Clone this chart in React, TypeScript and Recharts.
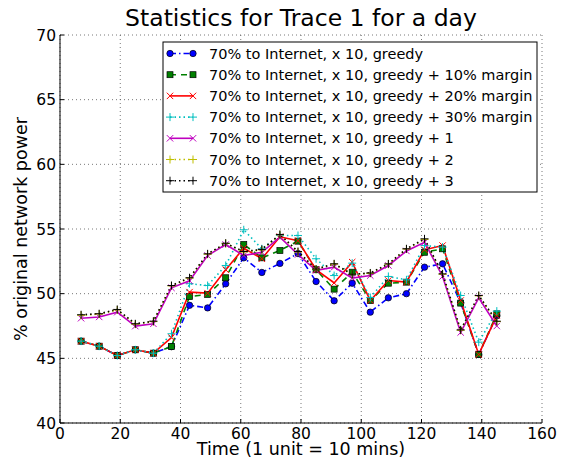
import { LineChart, Line, XAxis, YAxis, CartesianGrid } from 'recharts';

const X_VALUES = [7, 13, 19, 25, 31, 37, 43, 49, 55, 61, 67, 73, 79, 85, 91, 97, 103, 109, 115, 121, 127, 133, 139, 145];
const GREEDY = [46.33, 45.94, 45.22, 45.66, 45.4, 45.9, 49.1, 48.9, 50.76, 52.77, 51.64, 52.34, 53.1, 50.94, 49.45, 50.81, 48.57, 49.68, 50.0, 52.05, 52.31, 49.3, 45.3, 48.3];
const MARGIN_10 = [46.33, 45.94, 45.22, 45.66, 45.4, 45.92, 49.78, 49.94, 51.23, 53.8, 52.77, 53.34, 54.06, 51.85, 50.35, 51.66, 49.47, 50.81, 50.89, 53.2, 53.47, 49.27, 45.3, 48.44];
const MARGIN_20 = [46.33, 45.94, 45.22, 45.66, 45.4, 46.6, 50.12, 50.04, 51.85, 53.52, 52.7, 54.4, 54.1, 51.85, 50.83, 52.44, 49.47, 51.02, 50.89, 53.39, 53.72, 49.47, 45.3, 48.3];
const MARGIN_30 = [46.33, 45.94, 45.22, 45.66, 45.4, 46.9, 50.77, 50.63, 52.18, 54.94, 53.47, 54.5, 54.5, 52.7, 51.4, 52.36, 49.7, 51.33, 51.07, 53.72, 53.6, 49.86, 46.25, 48.65];
const PLUS_1 = [48.1, 48.2, 48.57, 47.49, 47.67, 50.45, 51.0, 52.95, 53.8, 52.95, 53.2, 54.37, 53.03, 51.8, 52.05, 51.2, 51.4, 52.18, 53.3, 53.98, 51.33, 47.0, 49.68, 47.5];
const PLUS_2 = [48.33, 48.42, 48.74, 47.64, 47.84, 50.6, 51.2, 53.05, 53.88, 53.22, 53.38, 54.55, 53.22, 51.88, 52.28, 51.48, 51.57, 52.28, 53.45, 54.2, 51.5, 47.17, 49.83, 47.84];
const PLUS_3 = [48.37, 48.45, 48.78, 47.67, 47.87, 50.63, 51.23, 53.08, 53.9, 53.26, 53.42, 54.58, 53.26, 51.9, 52.31, 51.5, 51.6, 52.3, 53.47, 54.24, 51.53, 47.2, 49.86, 47.87];

const X_TICKS = [0, 20, 40, 60, 80, 100, 120, 140, 160];
const Y_TICKS = [40, 45, 50, 55, 60, 65, 70];

const LABELS = [
  '70% to Internet, x 10, greedy',
  '70% to Internet, x 10, greedy + 10% margin',
  '70% to Internet, x 10, greedy + 20% margin',
  '70% to Internet, x 10, greedy + 30% margin',
  '70% to Internet, x 10, greedy + 1',
  '70% to Internet, x 10, greedy + 2',
  '70% to Internet, x 10, greedy + 3',
];

const data = X_VALUES.map((x, i) => ({
  x,
  greedy: GREEDY[i],
  m10: MARGIN_10[i],
  m20: MARGIN_20[i],
  m30: MARGIN_30[i],
  p1: PLUS_1[i],
  p2: PLUS_2[i],
  p3: PLUS_3[i],
}));

const FONT = '"DejaVu Sans", sans-serif';
const W = 570;
const H = 459;
const PLOT = { left: 60, right: 542, top: 35, bottom: 423 };

type Shape = 'circle' | 'square' | 'x' | 'plus';

interface SeriesDef {
  key: string;
  color: string;
  dash?: string;
  shape: Shape;
}

const SERIES: SeriesDef[] = [
  { key: 'greedy', color: '#0000ff', dash: '6 3 1.5 3', shape: 'circle' },
  { key: 'm10', color: '#008000', dash: '6 5', shape: 'square' },
  { key: 'm20', color: '#ff0000', shape: 'x' },
  { key: 'm30', color: '#00bfbf', dash: '1.5 3', shape: 'plus' },
  { key: 'p1', color: '#bf00bf', shape: 'x' },
  { key: 'p2', color: '#bfbf00', dash: '1.5 3', shape: 'plus' },
  { key: 'p3', color: '#000000', dash: '1.5 3', shape: 'plus' },
];

function marker(shape: Shape, color: string, cx: number, cy: number, key?: any) {
  switch (shape) {
    case 'circle':
      return <circle key={key} cx={cx} cy={cy} r={3.2} fill={color} stroke="#000" strokeWidth={0.7} />;
    case 'square':
      return <rect key={key} x={cx - 3} y={cy - 3} width={6} height={6} fill={color} stroke="#000" strokeWidth={0.7} />;
    case 'x':
      return (
        <g key={key}>
          <line x1={cx - 3.2} y1={cy - 3.2} x2={cx + 3.2} y2={cy + 3.2} stroke={color} strokeWidth={1} />
          <line x1={cx - 3.2} y1={cy + 3.2} x2={cx + 3.2} y2={cy - 3.2} stroke={color} strokeWidth={1} />
        </g>
      );
    default:
      return (
        <g key={key}>
          <line x1={cx - 4} y1={cy} x2={cx + 4} y2={cy} stroke={color} strokeWidth={1} />
          <line x1={cx} y1={cy - 4} x2={cx} y2={cy + 4} stroke={color} strokeWidth={1} />
        </g>
      );
  }
}

const dotRenderer = (shape: Shape, color: string) => (props: any) => {
  const { cx, cy, index } = props;
  if (cx == null || cy == null) return <g key={index} />;
  return marker(shape, color, cx, cy, index);
};

// inward ticks, matplotlib classic style
const BottomTick = (props: any) => {
  const { x, payload } = props;
  return (
    <g>
      <line x1={x} x2={x} y1={PLOT.bottom} y2={PLOT.bottom - 4} stroke="#000" />
      <text x={x} y={PLOT.bottom + 16} textAnchor="middle" fontSize={15.5} fontFamily={FONT} fill="#000">
        {payload.value}
      </text>
    </g>
  );
};

const TopTick = (props: any) => {
  const { x } = props;
  return <line x1={x} x2={x} y1={PLOT.top} y2={PLOT.top + 4} stroke="#000" />;
};

const LeftTick = (props: any) => {
  const { y, payload } = props;
  return (
    <g>
      <line x1={PLOT.left} x2={PLOT.left + 4} y1={y} y2={y} stroke="#000" />
      <text x={PLOT.left - 4} y={y + 5.5} textAnchor="end" fontSize={15.5} fontFamily={FONT} fill="#000">
        {payload.value}
      </text>
    </g>
  );
};

const RightTick = (props: any) => {
  const { y } = props;
  return <line x1={PLOT.right} x2={PLOT.right - 4} y1={y} y2={y} stroke="#000" />;
};

function Legend() {
  const left = 163;
  const top = 42;
  const width = 374;
  const height = 150;
  return (
    <g>
      <rect x={left} y={top} width={width} height={height} fill="#fff" stroke="#000" strokeWidth={1} />
      {SERIES.map((s, i) => {
        const cy = top + 11.5 + i * 21.2;
        return (
          <g key={s.key}>
            <line x1={left + 7} x2={left + 30} y1={cy} y2={cy} stroke={s.color} strokeWidth={1.6} strokeDasharray={s.dash} />
            {marker(s.shape, s.color, left + 7, cy)}
            {marker(s.shape, s.color, left + 30, cy)}
            <text x={left + 46} y={cy + 5} fontSize={14.5} fontFamily={FONT} fill="#000">
              {LABELS[i]}
            </text>
          </g>
        );
      })}
    </g>
  );
}

export default function App() {
  return (
    <div style={{ position: 'absolute', left: 0, top: 0, width: W, height: H, background: '#fff' }}>
      <LineChart
        width={W}
        height={H}
        data={data}
        margin={{ top: PLOT.top, right: W - PLOT.right, bottom: 0, left: 0 }}
      >
        <CartesianGrid xAxisId="b" yAxisId="l" stroke="#555" strokeDasharray="1 3" strokeWidth={0.8} />
        <XAxis
          xAxisId="b"
          dataKey="x"
          type="number"
          domain={[0, 160]}
          ticks={X_TICKS}
          height={H - PLOT.bottom}
          axisLine={{ stroke: '#000' }}
          tickLine={false}
          tick={<BottomTick />}
          interval={0}
        />
        <XAxis
          xAxisId="t"
          orientation="top"
          dataKey="x"
          type="number"
          domain={[0, 160]}
          ticks={X_TICKS}
          height={0}
          axisLine={{ stroke: '#000' }}
          tickLine={false}
          tick={<TopTick />}
          interval={0}
        />
        <YAxis
          yAxisId="l"
          type="number"
          domain={[40, 70]}
          ticks={Y_TICKS}
          width={PLOT.left}
          axisLine={{ stroke: '#000' }}
          tickLine={false}
          tick={<LeftTick />}
          interval={0}
        />
        <YAxis
          yAxisId="r"
          orientation="right"
          type="number"
          domain={[40, 70]}
          ticks={Y_TICKS}
          width={0}
          axisLine={{ stroke: '#000' }}
          tickLine={false}
          tick={<RightTick />}
          interval={0}
        />
        {SERIES.map((s) => (
          <Line
            key={s.key}
            xAxisId="b"
            yAxisId="l"
            dataKey={s.key}
            type="linear"
            stroke={s.color}
            strokeWidth={1.6}
            strokeDasharray={s.dash}
            dot={dotRenderer(s.shape, s.color)}
            activeDot={false}
            isAnimationActive={false}
          />
        ))}
      </LineChart>
      <svg width={W} height={H} style={{ position: 'absolute', left: 0, top: 0, pointerEvents: 'none' }}>
        <text x={(PLOT.left + PLOT.right) / 2} y={26} textAnchor="middle" fontSize={23.5} fontFamily={FONT} fill="#000">
          Statistics for Trace 1 for a day
        </text>
        <text x={(PLOT.left + PLOT.right) / 2} y={455} textAnchor="middle" fontSize={17.5} fontFamily={FONT} fill="#000">
          Time (1 unit = 10 mins)
        </text>
        <text
          x={27}
          y={(PLOT.top + PLOT.bottom) / 2}
          textAnchor="middle"
          fontSize={17.5}
          fontFamily={FONT}
          fill="#000"
          transform={`rotate(-90 27 ${(PLOT.top + PLOT.bottom) / 2})`}
        >
          % original network power
        </text>
        <Legend />
      </svg>
    </div>
  );
}
